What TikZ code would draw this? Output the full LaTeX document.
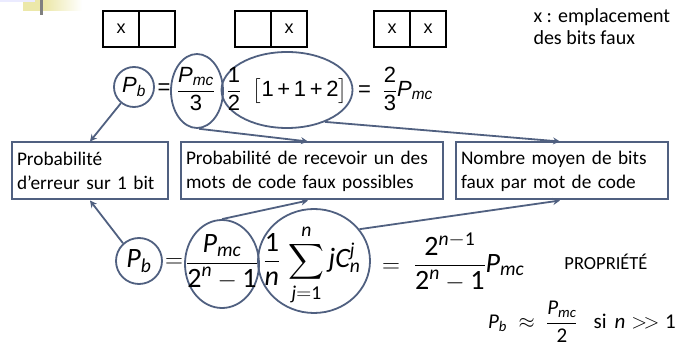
\documentclass[tikz,border=0pt]{standalone}
\usepackage{amsmath}
\usepackage{fontspec}
\setmainfont{Carlito}
\newfontfamily\arialf{Liberation Sans}
\usepackage{xcolor}
\usetikzlibrary{arrows.meta, positioning, shapes.geometric}

\definecolor{slate}{RGB}{80,96,128}
\definecolor{paleyel}{RGB}{236,232,170}
\newcommand{\tv}[1]{\text{\itshape #1}}
\newcommand{\tn}[1]{\text{#1}}
\newcommand{\fr}[2]{\genfrac{}{}{1.1pt}{0}{#1}{#2}}

\begin{document}
\begin{tikzpicture}[x=1pt, y=-1pt,
  cell/.style={draw, line width=1.8pt, minimum size=36pt, inner sep=0pt,
    outer sep=0pt, font=\arialf\fontsize{18}{20}\selectfont},
  ring/.style={draw=slate, line width=1.8pt, circle, inner sep=0pt},
  oval/.style={draw=slate, line width=1.8pt, ellipse, inner sep=0pt},
  infobox/.style={draw=slate, line width=2pt, align=left, inner xsep=5pt,
    minimum height=57pt, font=\fontsize{19.3}{24}\selectfont},
  link/.style={draw=slate, line width=1.8pt, -{Stealth[length=7pt,width=7pt]}},
  eqA/.style={font=\arialf\fontsize{22}{26}\selectfont, inner sep=0pt},
  eqB/.style={font=\fontsize{28}{32}\selectfont, inner sep=0pt}]
  \useasboundingbox (0,0) rectangle (678,347);

  % Slide corner
  \fill[paleyel] (23,0) rectangle (45,11);
  \shade[left color=paleyel, right color=white] (45,0) rectangle (82,11);
  \fill[blue!8] (0,0) rectangle (35,2);
  \fill[gray] (40,0) rectangle (43,15);

  % Error patterns
  \node[cell] (a1) at (121,29) {x};
  \node[cell, right=0pt of a1] (a2) {};
  \node[cell] (b1) at (253,29) {};
  \node[cell, right=0pt of b1] (b2) {x};
  \node[cell] (c1) at (392,29) {x};
  \node[cell, right=0pt of c1] (c2) {x};
  \node[anchor=north west, align=left, font=\fontsize{20}{22}\selectfont]
    (key) at (530,5) {x : emplacement\\des bits faux};

  % Case n = 2
  \node[ring, minimum size=40pt, eqA] (pb1) at (134,87) {$\tv{P}_{\tv{b}}$};
  \node[eqA] (eq1) at (164,89) {\tn{=}};
  \node[oval, minimum width=52pt, minimum height=74pt] (f1o) at (197,91) {};
  \node[eqA] (f1) at (196,89) {$\fr{\tv{P}_{\tv{mc}}}{\tn{3}}$};
  \node[oval, minimum width=131pt, minimum height=76pt] (s1o) at (287,90) {};
  \node[eqA] (s1) at (287,89)
    {$\fr{\tn{1}}{\tn{2}}\;\;\big[\tn{1\,+\,1\,+\,2}\big]$};
  \node[eqA, anchor=west] (r1) at (358,89)
    {\tn{=}$\;\;\fr{\tn{2}}{\tn{3}}\tv{P}_{\tv{mc}}$};

  % Meanings
  \node[infobox, text width=146pt] (m1) at (90,171)
    {Probabilité\\d’erreur sur 1 bit};
  \node[infobox, text width=252pt] (m2) at (312,171)
    {Probabilité de recevoir un des\\mots de code faux possibles};
  \node[infobox, text width=202pt] (m3) at (562,171)
    {Nombre moyen de bits\\faux par mot de code};

  % General case
  \node[ring, minimum size=46pt, eqB] (pb2) at (139,261) {$\tv{P}_{\tv{b}}$};
  \node[eqB] (eq2) at (174,263) {$=$};
  \node[oval, minimum width=74pt, minimum height=88pt] (f2o) at (222,264) {};
  \node[eqB] (f2) at (222,262) {$\fr{\tv{P}_{\tv{mc}}}{\tn{2}^{\tv{n}}-\tn{1}}$};
  \node[oval, minimum width=112pt, minimum height=104pt] (s2o) at (314,261) {};
  \node[eqB] (s2) at (312,265)
    {$\displaystyle\fr{\tn{1}}{\tv{n}}\,\sum_{\tv{j}=\tn{1}}^{\tv{n}}\tv{j}\tv{C}_{\tv{n}}^{\tv{j}}$};
  \node[eqB, anchor=west] (r2) at (382,262)
    {$=\;\fr{\tn{2}^{\tv{n}-\tn{1}}}{\tn{2}^{\tv{n}}-\tn{1}}\tv{P}_{\tv{mc}}$};

  % Property
  \node[font=\fontsize{18.5}{22}\selectfont] (prop) at (606,262) {PROPRIÉTÉ};
  \node[font=\fontsize{21}{25}\selectfont, anchor=east, inner sep=0pt] (approx) at (676,322)
    {$\tv{P}_{\tv{b}}\;\approx\;\fr{\tv{P}_{\tv{mc}}}{\tn{2}}\hspace{16pt}\tn{si}\hspace{8pt}\tv{n}>\!>\tn{1}$};

  % Links
  \draw[link] (pb1.231) -- (m1.north);
  \draw[link] (f1o.-87) -- ([xshift=-4pt]m2.north);
  \draw[link] (s1o.-40) -- ([xshift=-2pt]m3.north);
  \draw[link] (pb2.132) -- (m1.south);
  \draw[link] (f2o.north) -- ([xshift=-4pt]m2.south);
  \draw[link] (s2o.35) -- ([xshift=-2pt]m3.south);
\end{tikzpicture}
\end{document}
